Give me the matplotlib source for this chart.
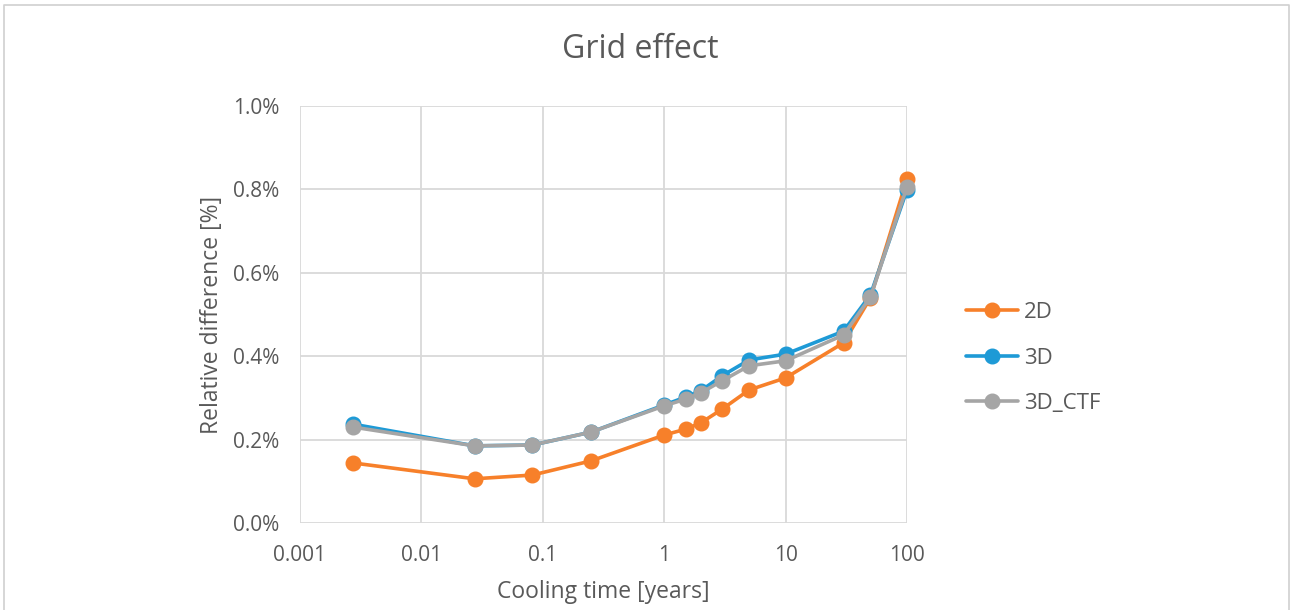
import matplotlib.pyplot as plt
from matplotlib.lines import Line2D
from matplotlib.ticker import FixedLocator, FuncFormatter, NullLocator

# 冷却时间 (年)
cooling_time = [1 / 365, 10 / 365, 30 / 365, 0.25, 1, 1.5, 2, 3, 5, 10, 30, 50, 100]

# 相对差值 (%)
rel_2d = [0.144, 0.106, 0.115, 0.149, 0.211, 0.225, 0.240, 0.273, 0.319, 0.348, 0.432, 0.540, 0.825]
rel_3d = [0.237, 0.185, 0.187, 0.218, 0.283, 0.302, 0.317, 0.353, 0.391, 0.405, 0.460, 0.547, 0.799]
rel_3d_ctf = [0.230, 0.185, 0.187, 0.218, 0.281, 0.297, 0.312, 0.341, 0.377, 0.389, 0.451, 0.542, 0.806]

series_names = ['2D', '3D', '3D_CTF']
colors = ['#F7802A', '#1E9AD6', '#A5A5A5']

x_ticks = [0.001, 0.01, 0.1, 1, 10, 100]
x_tick_labels = ['0.001', '0.01', '0.1', '1', '10', '100']
y_ticks = [0.0, 0.2, 0.4, 0.6, 0.8, 1.0]

plt.rcParams['font.family'] = ['Open Sans', 'DejaVu Sans']

W, H = 1290, 610
fig = plt.figure(figsize=(W / 100, H / 100), dpi=100)

# 图表外框 (底边被裁掉)
fig.add_artist(Line2D([4 / W, 4 / W, 1288.5 / W, 1288.5 / W],
                      [0, 1 - 5 / H, 1 - 5 / H, 0],
                      transform=fig.transFigure, color='#D0D0D0', linewidth=1.2))

ax = fig.add_axes([300 / W, 1 - 523 / H, 607 / W, 417 / H])

for name, values, color in zip(series_names, [rel_2d, rel_3d, rel_3d_ctf], colors):
    ax.plot(cooling_time, values, color=color, linewidth=2.6, marker='o',
            markersize=10.5, label=name, solid_capstyle='round', clip_on=False)

ax.set_xscale('log')
ax.set_xlim(0.001, 100)
ax.set_ylim(0, 1.0)
ax.xaxis.set_major_locator(FixedLocator(x_ticks))
ax.xaxis.set_minor_locator(NullLocator())
ax.set_xticklabels(x_tick_labels)
ax.set_yticks(y_ticks)
ax.yaxis.set_major_formatter(FuncFormatter(lambda v, p: f'{v:.1f}%'))

ax.grid(True, color='#D9D9D9', linewidth=1.3)
ax.set_axisbelow(True)
for s in ax.spines.values():
    s.set_visible(False)
ax.tick_params(length=0, labelsize=15, colors='#595959')
ax.tick_params(axis='y', pad=15)
ax.tick_params(axis='x', pad=16)

ax.set_xlabel('Cooling time [years]', fontsize=16.5, color='#595959', labelpad=10)
ax.set_ylabel('Relative difference [%]', fontsize=16.5, color='#595959', labelpad=6)
fig.text(640 / W, 1 - 50 / H, 'Grid effect', fontsize=23, color='#595959',
         ha='center', va='center')

fig.legend(loc='center left', bbox_to_anchor=(946 / W, 1 - 358 / H), frameon=False,
           fontsize=16, labelcolor='#595959', handlelength=2.35, labelspacing=1.1,
           handletextpad=0.25)

fig.savefig('out.png', dpi=100)
